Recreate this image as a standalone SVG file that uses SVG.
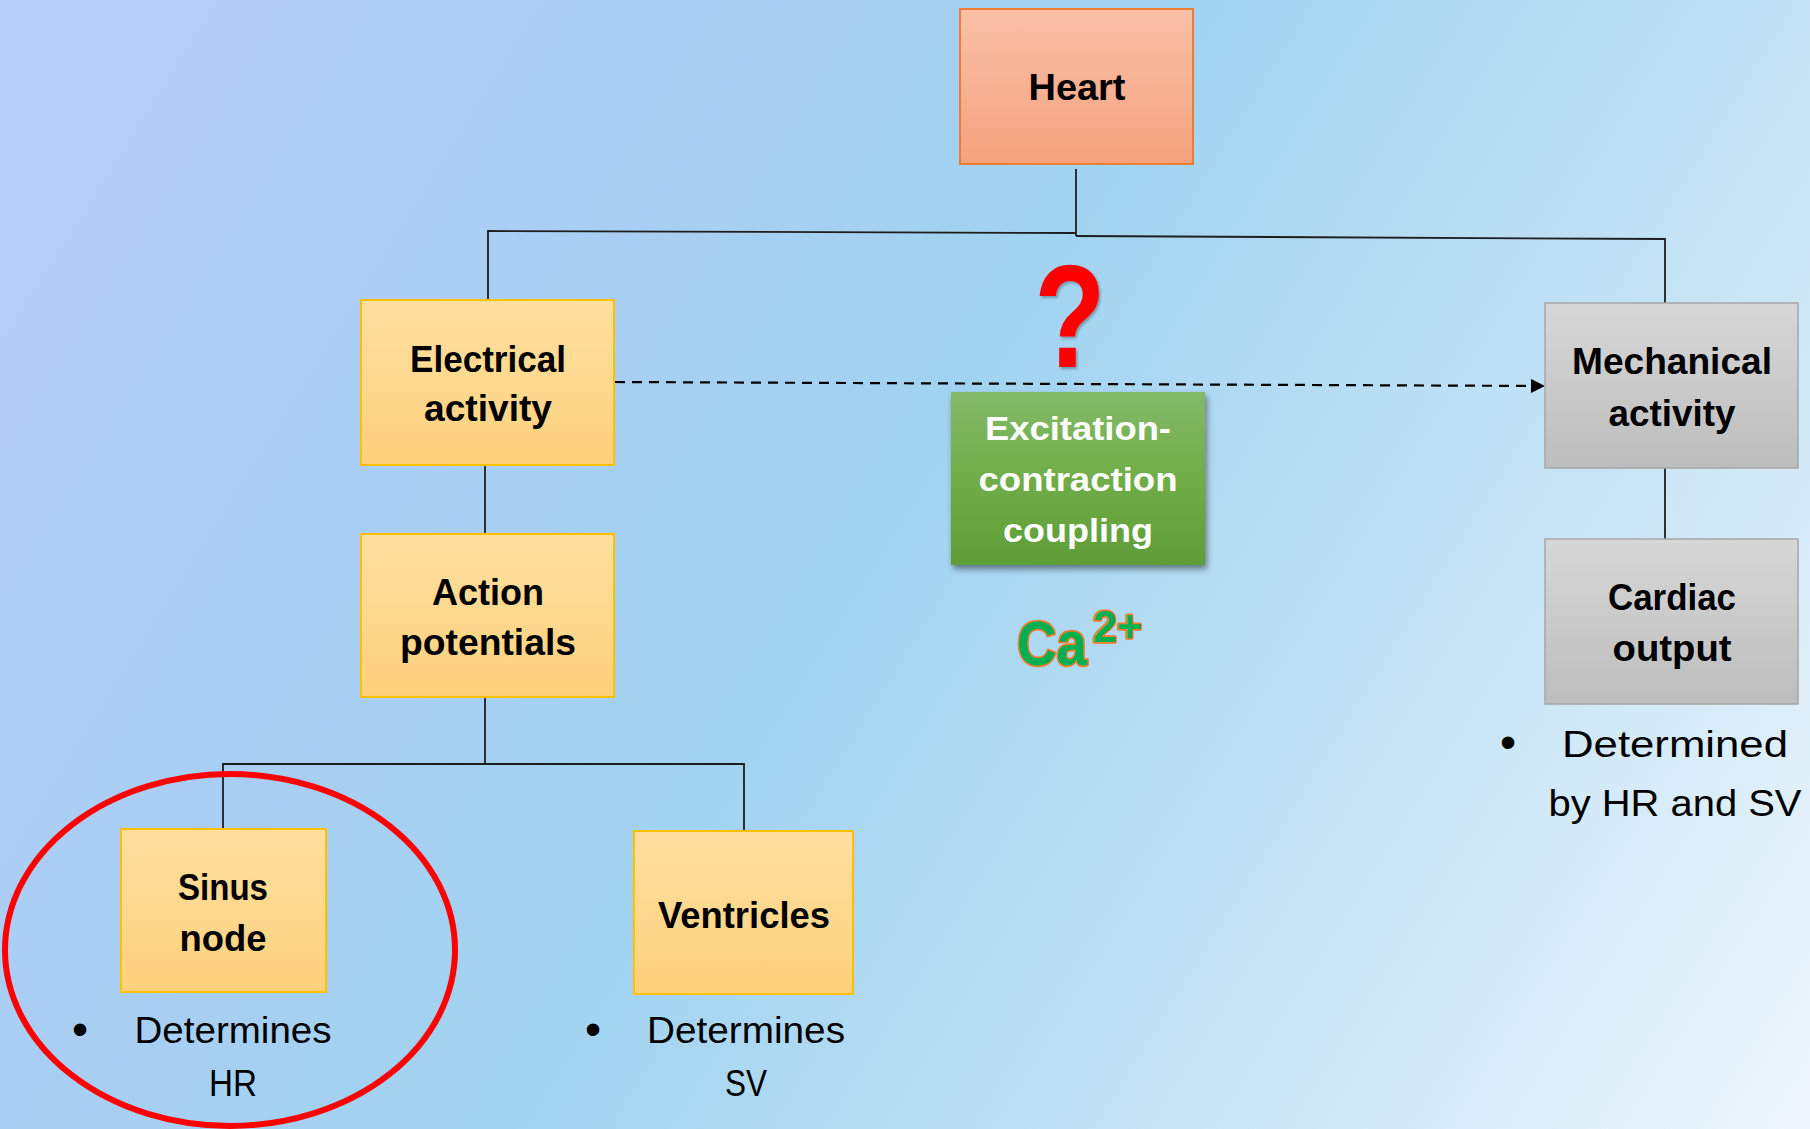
<svg xmlns="http://www.w3.org/2000/svg" width="1810" height="1129" viewBox="0 0 1810 1129">
  <defs>
    <linearGradient id="bg" gradientUnits="userSpaceOnUse" x1="0" y1="0" x2="1810" y2="1129">
      <stop offset="0" stop-color="#B7CEFA"/>
      <stop offset="0.28" stop-color="#A9CEF3"/>
      <stop offset="0.48" stop-color="#A1D3F0"/>
      <stop offset="0.72" stop-color="#C2E2F5"/>
      <stop offset="1" stop-color="#EEF6FD"/>
    </linearGradient>
    <linearGradient id="gYellow" x1="0" y1="0" x2="0" y2="1">
      <stop offset="0" stop-color="#FEDFA0"/>
      <stop offset="1" stop-color="#FDD17C"/>
    </linearGradient>
    <linearGradient id="gOrange" x1="0" y1="0" x2="0" y2="1">
      <stop offset="0" stop-color="#F9C0A7"/>
      <stop offset="1" stop-color="#F5A27E"/>
    </linearGradient>
    <linearGradient id="gGray" x1="0" y1="0" x2="0" y2="1">
      <stop offset="0" stop-color="#D7D7D7"/>
      <stop offset="1" stop-color="#BDBDBD"/>
    </linearGradient>
    <linearGradient id="gGreen" x1="0" y1="0" x2="0" y2="1">
      <stop offset="0" stop-color="#83BA69"/>
      <stop offset="0.5" stop-color="#70AD47"/>
      <stop offset="1" stop-color="#5E9D37"/>
    </linearGradient>
    <filter id="shadow" x="-10%" y="-10%" width="125%" height="130%">
      <feDropShadow dx="2" dy="4" stdDeviation="3" flood-color="#000" flood-opacity="0.45"/>
    </filter>
    <filter id="softShadow" x="-20%" y="-20%" width="150%" height="150%">
      <feDropShadow dx="2" dy="2" stdDeviation="1.5" flood-color="#000" flood-opacity="0.3"/>
    </filter>
    <marker id="arrow" viewBox="0 0 10 10" refX="10" refY="5" markerUnits="userSpaceOnUse" markerWidth="15" markerHeight="14" orient="auto">
      <path d="M0,0 L10,5 L0,10 Z" fill="#000"/>
    </marker>
  </defs>
  <style>
    .yellow { fill: url(#gYellow); stroke: #FFC000; stroke-width: 2; }
    .orange { fill: url(#gOrange); stroke: #ED7D31; stroke-width: 2; }
    .gray { fill: url(#gGray); stroke: #A6A6A6; stroke-width: 1.5; }
    .green { fill: url(#gGreen); }
    .lbl { font-family: "Liberation Sans", Arial, sans-serif; font-weight: bold; font-size: 36px; fill: #000; text-anchor: middle; }
    .lblW { font-family: "Liberation Sans", Arial, sans-serif; font-weight: bold; font-size: 34px; fill: #FFF; text-anchor: middle; }
    .note { font-family: "Liberation Sans", Arial, sans-serif; font-size: 36px; fill: #000; text-anchor: middle; }
    .bullet { font-family: "Liberation Sans", Arial, sans-serif; font-size: 46px; fill: #000; text-anchor: middle; }
    .wire { fill: none; stroke: #1E1E1E; stroke-width: 1.8; }
    .dash { fill: none; stroke: #000; stroke-width: 2.2; stroke-dasharray: 10 7; }
  </style>

  <rect x="0" y="0" width="1810" height="1129" fill="url(#bg)"/>

  <!-- connectors -->
  <g id="connectors">
    <path class="wire" d="M1076,169 V236"/>
    <path class="wire" d="M488,300 V231 L1076,233"/>
    <path class="wire" d="M1076,236 L1665,239 V303"/>
    <path class="wire" d="M485,465 V534"/>
    <path class="wire" d="M485,697 V764"/>
    <path class="wire" d="M223,829 V764 H744 V831"/>
    <path class="wire" d="M1665,468 V539"/>
    <path class="dash" d="M615,382 L1545,386" marker-end="url(#arrow)"/>
  </g>

  <g id="heart">
    <rect class="orange" x="960" y="9" width="233" height="155"/>
    <text class="lbl" x="1077" y="100" textLength="97" lengthAdjust="spacingAndGlyphs">Heart</text>
  </g>

  <g id="electrical-activity">
    <rect class="yellow" x="361" y="300" width="253" height="165"/>
    <text class="lbl" x="488" y="372" textLength="156" lengthAdjust="spacingAndGlyphs">Electrical</text>
    <text class="lbl" x="488" y="421" textLength="128" lengthAdjust="spacingAndGlyphs">activity</text>
  </g>

  <g id="action-potentials">
    <rect class="yellow" x="361" y="534" width="253" height="163"/>
    <text class="lbl" x="488" y="605" textLength="112" lengthAdjust="spacingAndGlyphs">Action</text>
    <text class="lbl" x="488" y="655" textLength="176" lengthAdjust="spacingAndGlyphs">potentials</text>
  </g>

  <g id="sinus-node">
    <rect class="yellow" x="121" y="829" width="205" height="163"/>
    <text class="lbl" x="223" y="900" textLength="90" lengthAdjust="spacingAndGlyphs">Sinus</text>
    <text class="lbl" x="223" y="951" textLength="87" lengthAdjust="spacingAndGlyphs">node</text>
    <text class="bullet" x="80" y="1045">•</text>
    <text class="note" x="233" y="1043" textLength="197" lengthAdjust="spacingAndGlyphs">Determines</text>
    <text class="note" x="233" y="1096" textLength="48" lengthAdjust="spacingAndGlyphs">HR</text>
    <ellipse cx="230" cy="950" rx="225" ry="176" fill="none" stroke="#FF0000" stroke-width="6"/>
  </g>

  <g id="ventricles">
    <rect class="yellow" x="634" y="831" width="219" height="163"/>
    <text class="lbl" x="744" y="928" textLength="172" lengthAdjust="spacingAndGlyphs">Ventricles</text>
    <text class="bullet" x="593" y="1045">•</text>
    <text class="note" x="746" y="1043" textLength="198" lengthAdjust="spacingAndGlyphs">Determines</text>
    <text class="note" x="746" y="1096" textLength="42" lengthAdjust="spacingAndGlyphs">SV</text>
  </g>

  <g id="question">
    <text transform="translate(1070,367) scale(0.8,1)" filter="url(#softShadow)" font-family="Liberation Sans, Arial, sans-serif" font-weight="bold" font-size="146" fill="#FF0000" text-anchor="middle">?</text>
  </g>

  <g id="excitation-contraction-coupling">
    <rect class="green" x="951" y="392" width="254" height="173" filter="url(#shadow)"/>
    <text class="lblW" x="1078" y="440" textLength="186" lengthAdjust="spacingAndGlyphs">Excitation-</text>
    <text class="lblW" x="1078" y="491" textLength="199" lengthAdjust="spacingAndGlyphs">contraction</text>
    <text class="lblW" x="1078" y="542" textLength="150" lengthAdjust="spacingAndGlyphs">coupling</text>
  </g>

  <g id="calcium">
    <text font-family="Liberation Sans, Arial, sans-serif" font-weight="bold" fill="#00B050" stroke="#ED7D31" stroke-width="3.5" stroke-linejoin="round" paint-order="stroke"><tspan x="1017" y="665" font-size="63" textLength="70" lengthAdjust="spacingAndGlyphs">Ca</tspan><tspan x="1093" y="642" font-size="44" textLength="49" lengthAdjust="spacingAndGlyphs">2+</tspan></text>
  </g>

  <g id="mechanical-activity">
    <rect class="gray" x="1545" y="303" width="253" height="165"/>
    <text class="lbl" x="1672" y="374" textLength="200" lengthAdjust="spacingAndGlyphs">Mechanical</text>
    <text class="lbl" x="1672" y="426" textLength="127" lengthAdjust="spacingAndGlyphs">activity</text>
  </g>

  <g id="cardiac-output">
    <rect class="gray" x="1545" y="539" width="253" height="165"/>
    <text class="lbl" x="1672" y="610" textLength="128" lengthAdjust="spacingAndGlyphs">Cardiac</text>
    <text class="lbl" x="1672" y="661" textLength="119" lengthAdjust="spacingAndGlyphs">output</text>
    <text class="bullet" x="1508" y="758">•</text>
    <text class="note" x="1675" y="757" textLength="226" lengthAdjust="spacingAndGlyphs">Determined</text>
    <text class="note" x="1675" y="816" textLength="253" lengthAdjust="spacingAndGlyphs">by HR and SV</text>
  </g>
</svg>
